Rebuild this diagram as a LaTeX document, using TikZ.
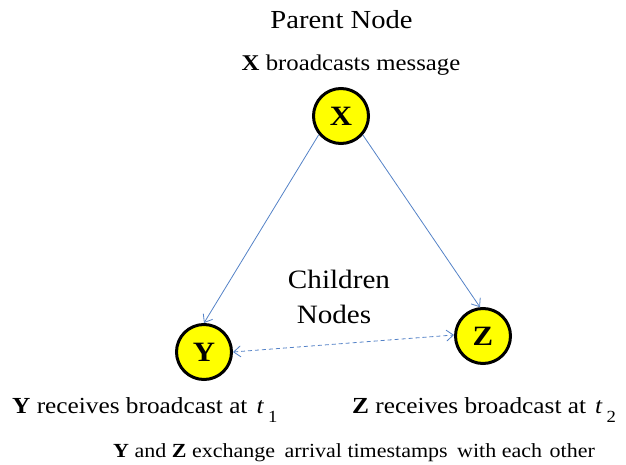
\documentclass[tikz,border=0pt]{standalone}
\usepackage{fontspec}
\setmainfont{Liberation Serif}[FakeStretch=1.1]
\usetikzlibrary{arrows.meta}
\definecolor{linkblue}{RGB}{84,130,199}
\definecolor{nodeyellow}{RGB}{255,255,0}
\tikzset{
  peer/.style={circle, draw=black, line width=3pt, fill=nodeyellow, minimum size=55pt, inner sep=0pt,
    font=\fontsize{28}{28}\selectfont\bfseries},
  link/.style={draw=linkblue, line width=0.8pt, -{Straight Barb[length=7pt,width=11pt]}},
  dlink/.style={draw=linkblue, line width=0.8pt, dash pattern=on 4pt off 3pt,
    {Straight Barb[length=7pt,width=11pt]}-{Straight Barb[length=7pt,width=11pt]}},
  txt/.style={inner sep=0pt, anchor=base},
}
\begin{document}
\begin{tikzpicture}[x=1pt,y=1pt]
\useasboundingbox (0,0) rectangle (626,464);
\node[peer] (X) at (341,348) {X};
\node[peer] (Y) at (204,112) {Y};
\node[peer] (Z) at (483,128) {Z};
\draw[link] (X.220) -- (Y.north);
\draw[link] (X.-41) -- (Z.96);
\draw[dlink] (Y.east) -- (Z.178);
\node[txt, font=\fontsize{26}{26}\selectfont] (parent) at (341.5,435) {Parent Node};
\node[txt, font=\fontsize{22.5}{22.5}\selectfont] (bcast) at (351,393) {\textbf{X} broadcasts message};
\node[txt, font=\fontsize{26.5}{26.5}\selectfont] (child1) at (339,176) {Children};
\node[txt, font=\fontsize{26.5}{26.5}\selectfont] (child2) at (334,141) {Nodes};
\node[txt, anchor=base west, font=\fontsize{23}{23}\selectfont] (yrec) at (12,51)
  {\textbf{Y} receives broadcast at\hspace{9pt}\textit{t}\hspace{4pt}\raisebox{-9pt}{\fontsize{17}{17}\selectfont 1}};
\node[txt, anchor=base west, font=\fontsize{23}{23}\selectfont] (zrec) at (352,51)
  {\textbf{Z} receives broadcast at\hspace{9pt}\textit{t}\hspace{4pt}\raisebox{-9pt}{\fontsize{17}{17}\selectfont 2}};
\node[txt, anchor=base west, font=\fontsize{20}{20}\selectfont] (xch) at (113,7)
  {\textbf{Y} and \textbf{Z} exchange\hspace{4pt} arrival timestamps\hspace{4pt} with each\hspace{2pt} other};
\end{tikzpicture}
\end{document}
